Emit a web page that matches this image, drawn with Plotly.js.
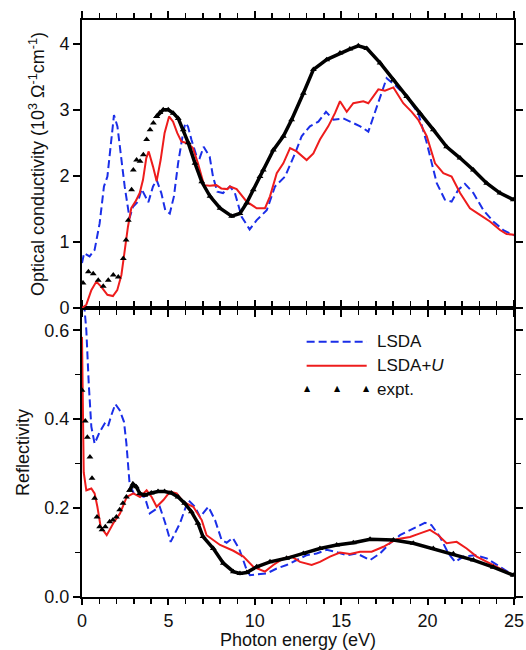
<!DOCTYPE html>
<html>
<head>
<meta charset="utf-8">
<script src="https://cdn.plot.ly/plotly-3.0.1.min.js"></script>
<style>html,body{margin:0;padding:0;background:#fff;}#chart{width:526px;height:650px;}</style>
</head>
<body>
<div id="chart"></div>
<script>
// ---- Optical conductivity (10^3 Ohm^-1 cm^-1), top panel ----
const lsdaSigE = [0, 0.12, 0.44, 0.73, 1.02, 1.27, 1.47, 1.70, 1.85, 2.05, 2.24, 2.47, 2.75, 2.95, 3.24, 3.45, 3.84, 4.11, 4.32, 4.59, 4.82, 5.08, 5.32, 5.56, 5.85, 5.98, 6.13, 6.33, 6.64, 6.81, 7.04, 7.39, 7.58, 7.83, 8.16, 8.56, 8.85, 9.24, 9.70, 10.11, 10.69, 11.17, 11.75, 12.33, 12.71, 13.19, 13.68, 14.12, 14.55, 15.12, 15.70, 16.10, 16.57, 17.05, 17.63, 18.21, 18.79, 19.46, 19.95, 20.53, 21.00, 21.39, 21.78, 22.16, 22.65, 23.23, 23.80, 24.38, 25.00];
const lsdaSig  = [0.68, 0.83, 0.78, 0.88, 1.28, 1.84, 1.99, 2.55, 2.92, 2.75, 2.29, 1.84, 1.36, 1.53, 1.61, 1.80, 1.60, 1.84, 1.94, 1.74, 1.48, 1.43, 1.69, 2.19, 2.65, 2.80, 2.75, 2.55, 2.29, 2.27, 2.44, 2.29, 1.99, 1.76, 1.74, 1.84, 1.74, 1.38, 1.19, 1.33, 1.48, 1.84, 1.99, 2.34, 2.60, 2.75, 2.82, 2.97, 2.85, 2.87, 2.80, 2.75, 2.67, 3.05, 3.48, 3.35, 3.20, 2.95, 2.50, 1.89, 1.64, 1.61, 1.79, 1.88, 1.74, 1.48, 1.31, 1.18, 1.10];

const ldauSigE = [0, 0.25, 0.54, 0.83, 1.12, 1.47, 1.79, 2.04, 2.28, 2.47, 2.66, 2.85, 3.09, 3.34, 3.53, 3.72, 3.86, 4.11, 4.32, 4.55, 4.78, 5.04, 5.27, 5.51, 5.75, 6.13, 6.42, 6.71, 7.06, 7.39, 7.77, 8.06, 8.41, 8.56, 8.95, 9.53, 10.11, 10.59, 10.88, 11.27, 11.65, 12.04, 12.42, 13.00, 13.39, 13.77, 14.25, 14.64, 14.93, 15.32, 15.70, 16.28, 16.57, 17.15, 17.53, 18.02, 18.59, 19.08, 19.46, 19.95, 20.43, 20.91, 21.39, 21.88, 22.45, 23.03, 23.61, 24.19, 24.57, 25.00];
const ldauSig  = [0.00, 0.05, 0.27, 0.40, 0.32, 0.20, 0.18, 0.27, 0.50, 0.88, 1.23, 1.51, 1.61, 1.74, 1.94, 2.27, 2.37, 2.14, 1.92, 2.24, 2.65, 2.90, 2.82, 2.65, 2.52, 2.49, 2.42, 2.19, 1.86, 1.85, 1.86, 1.81, 1.80, 1.84, 1.80, 1.61, 1.51, 1.51, 1.69, 2.04, 2.19, 2.42, 2.37, 2.24, 2.34, 2.55, 2.75, 2.95, 3.13, 2.97, 3.10, 3.13, 3.10, 3.31, 3.29, 3.34, 3.10, 2.97, 2.85, 2.60, 2.19, 2.04, 1.99, 1.74, 1.51, 1.41, 1.31, 1.18, 1.12, 1.11];

const exptSigE = [0.06, 0.37, 0.65, 0.94, 1.23, 1.52, 1.81, 2.10, 2.39, 2.55, 2.68, 2.87, 2.97, 3.16, 3.36, 3.55, 3.74, 3.94, 4.13, 4.32, 4.51, 4.70, 4.99, 5.28, 5.57, 5.86, 6.15, 6.54, 6.93, 7.41, 7.99, 8.66, 9.14, 9.53, 9.91, 10.30, 10.49, 11.07, 11.65, 12.13, 12.81, 13.39, 14.16, 14.93, 15.50, 15.99, 16.48, 17.25, 18.02, 18.79, 19.56, 20.33, 21.10, 21.88, 22.65, 23.42, 24.19, 24.96];
const exptSig  = [0.38, 0.55, 0.52, 0.42, 0.33, 0.42, 0.50, 0.47, 0.75, 1.03, 1.33, 1.79, 2.09, 2.24, 2.22, 2.32, 2.55, 2.70, 2.80, 2.90, 2.96, 3.00, 3.00, 2.95, 2.87, 2.70, 2.50, 2.19, 1.91, 1.69, 1.51, 1.39, 1.43, 1.59, 1.79, 1.99, 2.09, 2.39, 2.60, 2.85, 3.25, 3.61, 3.76, 3.86, 3.92, 3.97, 3.93, 3.71, 3.45, 3.20, 2.95, 2.70, 2.44, 2.27, 2.09, 1.89, 1.74, 1.64];

// ---- Reflectivity, bottom panel ----
const lsdaRE = [0.12, 0.25, 0.39, 0.54, 0.73, 1.02, 1.31, 1.50, 1.70, 1.93, 2.18, 2.43, 2.57, 2.76, 3.00, 3.34, 3.63, 3.92, 4.21, 4.50, 4.82, 5.13, 5.67, 6.15, 6.54, 6.83, 7.31, 7.70, 8.08, 8.37, 8.72, 9.10, 9.53, 9.72, 10.69, 11.27, 11.84, 12.42, 13.00, 13.58, 14.16, 14.64, 15.32, 15.90, 16.67, 17.25, 17.82, 18.40, 19.17, 19.84, 20.22, 20.72, 21.20, 21.59, 22.07, 22.74, 23.42, 24.19, 24.96];
const lsdaR  = [0.66, 0.60, 0.48, 0.383, 0.345, 0.371, 0.390, 0.383, 0.409, 0.434, 0.420, 0.394, 0.345, 0.252, 0.233, 0.229, 0.225, 0.188, 0.196, 0.203, 0.166, 0.124, 0.166, 0.218, 0.203, 0.180, 0.203, 0.173, 0.128, 0.122, 0.133, 0.108, 0.061, 0.049, 0.053, 0.064, 0.072, 0.083, 0.094, 0.098, 0.106, 0.102, 0.094, 0.098, 0.083, 0.098, 0.121, 0.139, 0.154, 0.167, 0.162, 0.135, 0.098, 0.079, 0.091, 0.094, 0.087, 0.068, 0.049];

const ldauRE = [0, 0.05, 0.10, 0.25, 0.54, 0.73, 0.89, 1.08, 1.43, 1.81, 2.20, 2.59, 2.97, 3.36, 3.74, 4.03, 4.32, 4.71, 5.09, 5.48, 5.86, 6.44, 6.93, 7.21, 7.99, 8.76, 9.34, 9.91, 10.59, 11.07, 11.65, 12.13, 12.62, 13.29, 13.77, 14.35, 14.93, 15.51, 16.09, 16.76, 17.44, 18.21, 18.98, 19.56, 20.14, 20.62, 21.10, 21.68, 22.26, 22.84, 23.80, 24.96];
const ldauR  = [0.585, 0.40, 0.28, 0.240, 0.244, 0.233, 0.203, 0.158, 0.139, 0.166, 0.188, 0.225, 0.233, 0.225, 0.240, 0.225, 0.203, 0.218, 0.237, 0.233, 0.214, 0.203, 0.173, 0.139, 0.117, 0.104, 0.091, 0.068, 0.057, 0.072, 0.087, 0.091, 0.079, 0.072, 0.079, 0.091, 0.100, 0.097, 0.102, 0.102, 0.113, 0.130, 0.135, 0.143, 0.151, 0.139, 0.121, 0.124, 0.109, 0.091, 0.072, 0.049];

const exptRE = [0.00, 0.19, 0.31, 0.46, 0.58, 0.73, 0.87, 1.02, 1.16, 1.35, 1.60, 1.79, 1.99, 2.18, 2.37, 2.57, 2.76, 2.95, 3.14, 3.34, 3.63, 4.01, 4.40, 4.78, 5.17, 5.56, 5.94, 6.33, 6.71, 7.00, 7.60, 8.18, 8.76, 9.14, 9.53, 10.11, 10.88, 11.84, 12.81, 13.77, 14.74, 15.70, 16.67, 18.02, 19.17, 20.33, 21.49, 22.65, 23.80, 24.96];
const exptR  = [0.465, 0.396, 0.359, 0.315, 0.267, 0.222, 0.180, 0.158, 0.151, 0.158, 0.169, 0.173, 0.180, 0.196, 0.211, 0.225, 0.240, 0.254, 0.248, 0.233, 0.229, 0.234, 0.237, 0.237, 0.234, 0.225, 0.211, 0.192, 0.166, 0.136, 0.109, 0.076, 0.057, 0.053, 0.055, 0.068, 0.079, 0.087, 0.098, 0.109, 0.117, 0.122, 0.130, 0.128, 0.121, 0.109, 0.097, 0.083, 0.067, 0.049];

const seriesNames = ['LSDA', 'LSDA+<i>U</i>', 'expt.'];
const xTitle = 'Photon energy (eV)';
const ySigTitle = 'Optical conductivity (10<sup>3</sup> Ω<sup>-1</sup>cm<sup>-1</sup>)';
const yRTitle = 'Reflectivity';

// ---- styling ----
const BLUE = '#1a2ee8', RED = '#ee1c1c', BLACK = '#000000', TXT = '#111111';
const FONT = 'Liberation Sans, Arial, Helvetica, sans-serif';

function split(E, V, cut) {
  const lo = {x: [], y: []}, hi = {x: [], y: []};
  for (let i = 0; i < E.length; i++) {
    if (E[i] < cut) { lo.x.push(E[i]); lo.y.push(V[i]); }
    else { hi.x.push(E[i]); hi.y.push(V[i]); }
  }
  if (lo.x.length) { hi.x.unshift(lo.x[lo.x.length-1]); hi.y.unshift(lo.y[lo.y.length-1]); }
  return [lo, hi];
}

const tri = {symbol: 'triangle-up', size: 6, color: BLACK};
const [sLo, sHi] = split(exptSigE, exptSig, 4.4);
const [rLo, rHi] = split(exptRE, exptR, 2.9);

const traces = [
  {x: lsdaSigE, y: lsdaSig, xaxis: 'x2', yaxis: 'y2', mode: 'lines', line: {color: BLUE, width: 2, dash: '8px,4px'}, showlegend: false},
  {x: ldauSigE, y: ldauSig, xaxis: 'x2', yaxis: 'y2', mode: 'lines', line: {color: RED, width: 2}, showlegend: false},
  {x: sLo.x, y: sLo.y, xaxis: 'x2', yaxis: 'y2', mode: 'markers', marker: tri, showlegend: false},
  {x: sHi.x, y: sHi.y, xaxis: 'x2', yaxis: 'y2', mode: 'lines+markers', marker: tri, line: {color: BLACK, width: 3.5}, showlegend: false},
  {x: lsdaRE, y: lsdaR, xaxis: 'x', yaxis: 'y', mode: 'lines', line: {color: BLUE, width: 2, dash: '8px,4px'}, showlegend: false},
  {x: ldauRE, y: ldauR, xaxis: 'x', yaxis: 'y', mode: 'lines', line: {color: RED, width: 2}, showlegend: false},
  {x: rLo.x, y: rLo.y, xaxis: 'x', yaxis: 'y', mode: 'markers', marker: tri, showlegend: false},
  {x: rHi.x, y: rHi.y, xaxis: 'x', yaxis: 'y', mode: 'lines+markers', marker: tri, line: {color: BLACK, width: 3.5}, showlegend: false}
];

const split_ = 0.5009;
const axCommon = {
  showline: true, linecolor: BLACK, linewidth: 2, mirror: 'allticks',
  ticks: 'outside', ticklen: 7, tickwidth: 2, tickcolor: BLACK,
  showgrid: false, zeroline: false,
  tickfont: {family: FONT, size: 18, color: TXT}
};
const crossAx = {
  ticks: 'inside', tickwidth: 2, tickcolor: BLACK, showticklabels: false,
  showline: false, showgrid: false, zeroline: false, fixedrange: true
};

const layout = {
  width: 526, height: 650,
  margin: {l: 82, r: 12, t: 20, b: 53},
  paper_bgcolor: '#fff', plot_bgcolor: '#fff',
  showlegend: false,
  font: {family: FONT, color: TXT},
  xaxis: Object.assign({}, axCommon, {
    domain: [0, 1], anchor: 'y', range: [0, 25], dtick: 5, tick0: 0, ticklen: 6,
    minor: {dtick: 1, ticks: 'outside', ticklen: 5, tickwidth: 1.5, tickcolor: BLACK},
    title: {text: xTitle, font: {family: FONT, size: 18, color: TXT}, standoff: 4}
  }),
  xaxis2: Object.assign({}, axCommon, {
    domain: [0, 1], anchor: 'y2', matches: 'x', range: [0, 25], dtick: 5, tick0: 0,
    showticklabels: false,
    minor: {dtick: 1, ticks: 'outside', ticklen: 5, tickwidth: 1.5, tickcolor: BLACK}
  }),
  xaxis3: Object.assign({}, crossAx, {
    overlaying: 'x', anchor: 'y', side: 'bottom', range: [0, 25], dtick: 5, tick0: 0, ticklen: 7
  }),
  yaxis: Object.assign({}, axCommon, {
    domain: [0, split_], anchor: 'x', range: [0, 0.65], dtick: 0.2, tick0: 0, tickformat: '.1f',
    minor: {dtick: 0.1, ticks: 'outside', ticklen: 5, tickwidth: 1.5, tickcolor: BLACK},
    title: {text: yRTitle, font: {family: FONT, size: 18, color: TXT}, standoff: 10}
  }),
  yaxis2: Object.assign({}, axCommon, {
    domain: [split_, 1], anchor: 'x2', range: [0, 4.36], dtick: 1, tick0: 0,
    title: {text: ySigTitle, font: {family: FONT, size: 18, color: TXT}, standoff: 10}
  }),
  yaxis3: Object.assign({}, crossAx, {
    overlaying: 'y', anchor: 'x', side: 'right', range: [0, 0.65], dtick: 0.2, tick0: 0, ticklen: 6
  }),
  yaxis4: Object.assign({}, crossAx, {
    overlaying: 'y2', anchor: 'x2', side: 'right', range: [0, 4.36], dtick: 1, tick0: 0, ticklen: 6
  }),
  shapes: [
    {type: 'line', xref: 'paper', yref: 'paper', x0: 0.520, x1: 0.659, y0: 0.4425, y1: 0.4425, line: {color: BLUE, width: 2, dash: '8px,4px'}},
    {type: 'line', xref: 'paper', yref: 'paper', x0: 0.520, x1: 0.659, y0: 0.4009, y1: 0.4009, line: {color: RED, width: 2}}
  ],
  annotations: [
    {xref: 'paper', yref: 'paper', x: 0.678, y: 0.4425, xanchor: 'left', yanchor: 'middle', showarrow: false, text: seriesNames[0], font: {family: FONT, size: 17, color: TXT}},
    {xref: 'paper', yref: 'paper', x: 0.678, y: 0.4009, xanchor: 'left', yanchor: 'middle', showarrow: false, text: seriesNames[1], font: {family: FONT, size: 17, color: TXT}},
    {xref: 'paper', yref: 'paper', x: 0.678, y: 0.360, xanchor: 'left', yanchor: 'middle', showarrow: false, text: seriesNames[2], font: {family: FONT, size: 17, color: TXT}},
    {xref: 'paper', yref: 'paper', x: 0.5215, y: 0.362, xanchor: 'center', yanchor: 'middle', showarrow: false, text: '▲', font: {family: 'DejaVu Sans', size: 8, color: BLACK}},
    {xref: 'paper', yref: 'paper', x: 0.591, y: 0.362, xanchor: 'center', yanchor: 'middle', showarrow: false, text: '▲', font: {family: 'DejaVu Sans', size: 8, color: BLACK}},
    {xref: 'paper', yref: 'paper', x: 0.659, y: 0.362, xanchor: 'center', yanchor: 'middle', showarrow: false, text: '▲', font: {family: 'DejaVu Sans', size: 8, color: BLACK}}
  ]
};

Plotly.newPlot('chart', traces, layout, {staticPlot: true, displayModeBar: false});
</script>
</body>
</html>
